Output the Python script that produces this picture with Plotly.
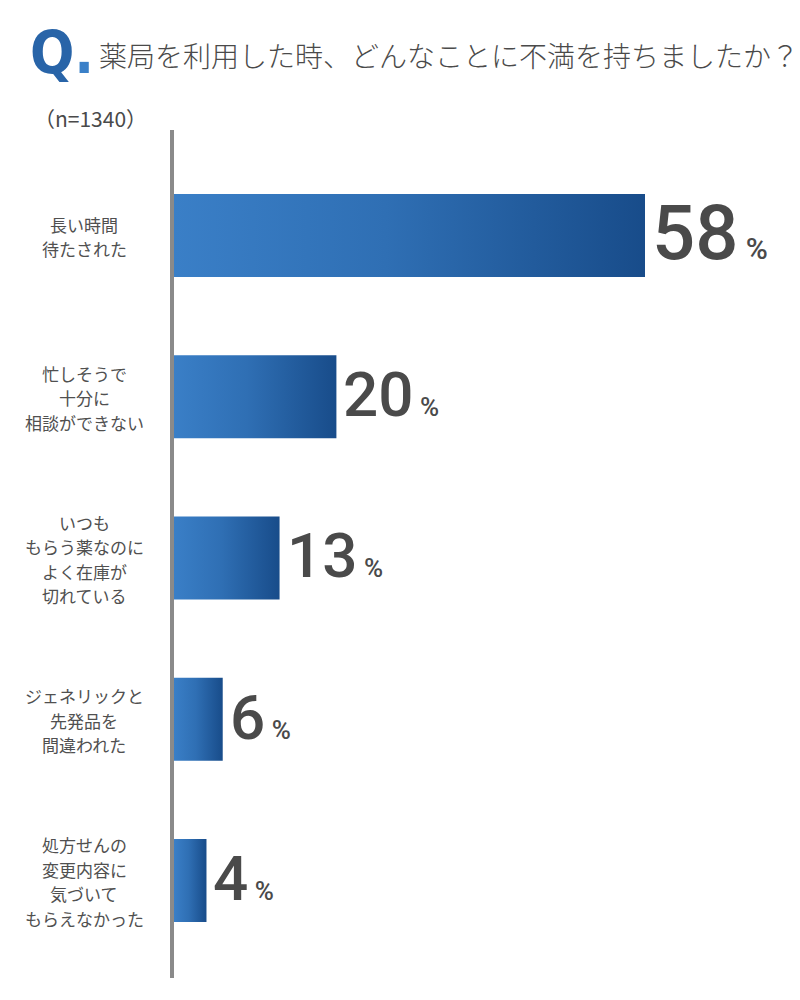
import plotly.graph_objects as go

# ---- data ----
categories = [
    "長い時間\n待たされた",
    "忙しそうで\n十分に\n相談ができない",
    "いつも\nもらう薬なのに\nよく在庫が\n切れている",
    "ジェネリックと\n先発品を\n間違われた",
    "処方せんの\n変更内容に\n気づいて\nもらえなかった",
]
values = [58, 20, 13, 6, 4]
title_text = "薬局を利用した時、どんなことに不満を持ちましたか？"
n_text = "（n=1340）"

# ---- layout constants ----
W, H = 800, 1000
ML, MR, MT, MB = 174, 0, 130, 22
PW, PH = W - ML - MR, H - MT - MB
XMAX = PW / (471 / 58)
Y_RANGE = [4.605, -0.654]
HALF = 0.2574
JP = "Noto Sans CJK JP"
NUM = "Roboto, sans-serif"
TXT = "#4a4a4a"
LBL = "#505050"
grad = [[0, "#3a7fc7"], [0.45, "#2f6fb4"], [1, "#184c8a"]]


def px_to_paper(xp, yp):
    return (xp - ML) / PW, 1 - (yp - MT) / PH


fig = go.Figure()
for i, v in enumerate(values):
    fig.add_trace(go.Scatter(
        x=[0, v, v, 0, 0],
        y=[i - HALF, i - HALF, i + HALF, i + HALF, i - HALF],
        mode="lines", line=dict(width=0), fill="toself",
        fillgradient=dict(type="horizontal", colorscale=grad),
        hoverinfo="skip", showlegend=False,
    ))

annotations = []
vmax = max(values)
for i, (c, v) in enumerate(zip(categories, values)):
    big = v == vmax
    fs, ps = (76, 30) if big else (62, 26)
    annotations.append(dict(
        x=v, y=i, xref="x", yref="y", xanchor="left", yanchor="middle",
        xshift=5, yshift=2, showarrow=False,
        text=f"{v}<span style='font-size:{ps}px'> %</span>",
        font=dict(family=NUM, size=fs, color=TXT, weight=500),
    ))
    lines = c.split("\n")
    xp, _ = px_to_paper(84, 0)
    mid = (len(lines) - 1) / 2
    for j, ln in enumerate(lines):
        annotations.append(dict(
            x=xp, y=i, xref="paper", yref="y", xanchor="center", yanchor="middle",
            yshift=(mid - j) * 24.5 - 1, showarrow=False, text=ln,
            font=dict(family=JP, size=17, color=LBL),
        ))

# title parts
qx, qy = px_to_paper(28, 53)
annotations.append(dict(x=qx, y=qy, xref="paper", yref="paper", xanchor="left",
                        yanchor="middle", showarrow=False,
                        text="<b>Q</b><span style='color:#3a80c8'><b>.</b></span>",
                        font=dict(family="DejaVu Sans Condensed, DejaVu Sans", size=58,
                                  color="#2864a8")))
tx, ty = px_to_paper(97, 55)
annotations.append(dict(x=tx, y=ty, xref="paper", yref="paper", xanchor="left",
                        yanchor="middle", showarrow=False, text=title_text,
                        font=dict(family=JP, size=28, color=TXT, weight=300)))
nx, ny = px_to_paper(32, 118)
annotations.append(dict(x=nx, y=ny, xref="paper", yref="paper", xanchor="left",
                        yanchor="middle", showarrow=False, text=n_text,
                        font=dict(family=JP, size=21, color=TXT)))

fig.update_layout(
    width=W, height=H,
    margin=dict(l=ML, r=MR, t=MT, b=MB),
    paper_bgcolor="white", plot_bgcolor="white",
    xaxis=dict(range=[0, XMAX], visible=False, fixedrange=True),
    yaxis=dict(range=Y_RANGE, showline=True, linecolor="#8a8a8a", linewidth=4,
               showgrid=False, zeroline=False, showticklabels=False, ticks="",
               fixedrange=True),
    annotations=annotations,
    showlegend=False,
)

fig.write_html("out.html")
